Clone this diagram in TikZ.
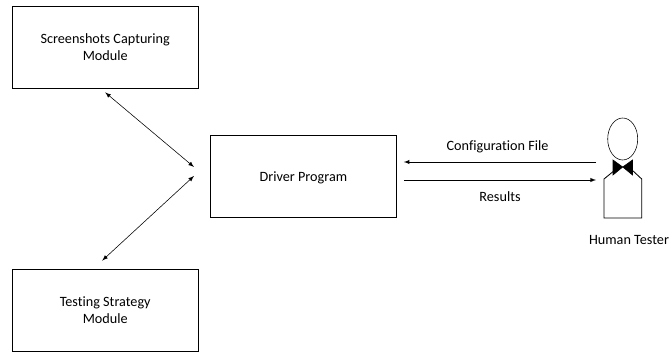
\documentclass[tikz,border=0pt]{standalone}
\usepackage{fontspec}
\setmainfont[Ligatures=NoCommon]{Carlito}
\usetikzlibrary{arrows,shapes,calc}
\tikzset{
         txt/.style={font=\fontsize{10.1}{12}\selectfont,align=center,inner sep=0pt},
         module/.style={draw,rectangle,semithick,txt,minimum width=186*.025cm,minimum height=82*.025cm,execute at begin node={\rule{0pt}{9.8pt}}},
         link/.style={thin,>=latex}
        }

\begin{document}
\begin{tikzpicture}[x=.025cm,y=-.025cm]
\useasboundingbox(0,0)rectangle(669,352);
%modules
\node[module](capture)at(105.2,47){Screenshots Capturing\\Module};
\node[module](strategy)at(105.2,310){Testing Strategy\\Module};
\node[module](driver)at(303.4,176){Driver Program};
%human tester
\draw[fill](622.7,167)--(613,160)--(613,175)--cycle;
\draw[fill](622.7,167)--(632.5,160)--(632.5,175)--cycle;
\node[draw,ellipse,thin,fill=white,minimum width=30*.025cm,minimum height=42*.025cm,inner sep=0pt](head)at(622.7,139){};
\draw[semithick](615,170)--(604,179)--(604,218)--(641.7,218)--(641.7,179)--(632,170);
\coordinate(testerin)at(596,180);
\coordinate(testerout)at(596,162);
\node[txt](tester)at(629,240){Human Tester};
%connectors
\draw[link,<->]([shift={(0,4)}]capture.south)--([shift={(-16,-9)}]driver.west);
\draw[link,<->]([shift={(-3,-8)}]strategy.north)--([shift={(-16,0)}]driver.west);
\draw[link,->](testerout)--([shift={(7,-14)}]driver.east);
\draw[link,->]([shift={(7,4)}]driver.east)--(testerin);
%labels
\node[txt](config)at(497.5,146.5){Configuration File};
\node[txt](results)at(500,197){Results};
\end{tikzpicture}
\end{document}
